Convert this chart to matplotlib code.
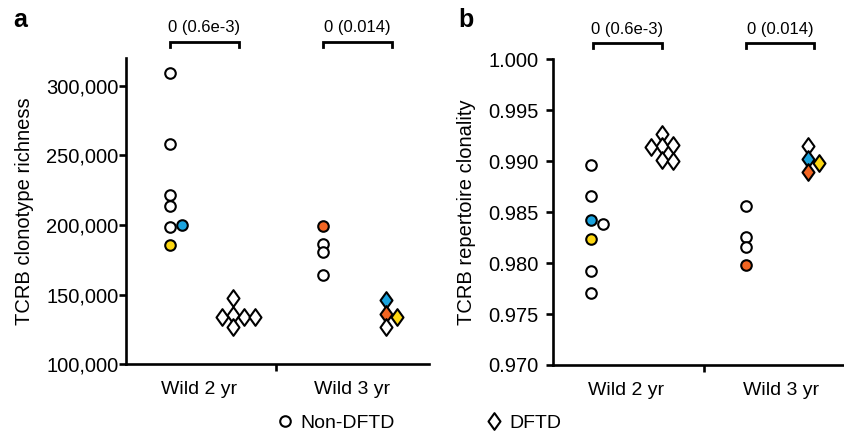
import numpy as np
import matplotlib
matplotlib.use("Agg")
import matplotlib.pyplot as plt
from matplotlib.path import Path
from matplotlib.lines import Line2D
from matplotlib.ticker import FuncFormatter, FixedLocator
import matplotlib.transforms as mtransforms

plt.rcParams["font.family"] = ["Liberation Sans", "DejaVu Sans"]

CATEGORIES = ["Wild 2 yr", "Wild 3 yr"]
PVALUE_TEXT = ["0 (0.6e-3)", "0 (0.014)"]

BLUE = "#1AA3DE"
YELLOW = "#FDD712"
ORANGE = "#F26522"
W = "white"

# panel a: TCRB clonotype richness
RICH_W2_NON = [309000, 258000, 221500, 213500, 198500, 200000, 186000]
RICH_W2_NON_FILL = [W, W, W, W, W, BLUE, YELLOW]
RICH_W2_DFTD = [147500, 135600, 134100, 133700, 134100, 126500]
RICH_W2_DFTD_FILL = [W] * 6
RICH_W3_NON = [199000, 186200, 181000, 163800]
RICH_W3_NON_FILL = [ORANGE, W, W, W]
RICH_W3_DFTD = [146100, 136100, 134100, 126500]
RICH_W3_DFTD_FILL = [BLUE, ORANGE, YELLOW, W]

# panel b: TCRB repertoire clonality
CLON_W2_NON = [0.9896, 0.9866, 0.9842, 0.9838, 0.9824, 0.9792, 0.9771]
CLON_W2_NON_FILL = [W, W, BLUE, W, YELLOW, W, W]
CLON_W2_DFTD = [0.9927, 0.99148, 0.99142, 0.99155, 0.9901, 0.9900]
CLON_W2_DFTD_FILL = [W] * 6
CLON_W3_NON = [0.9856, 0.9826, 0.9816, 0.9798]
CLON_W3_NON_FILL = [W, W, W, ORANGE]
CLON_W3_DFTD = [0.99148, 0.99017, 0.98892, 0.98978]
CLON_W3_DFTD_FILL = [W, BLUE, ORANGE, YELLOW]

# horizontal nudges (layout only) so overlapping points stay visible
STEP = 0.072
RICH_W2_NON_JIT = [0, 0, 0, 0, 0, 0.083, 0]
RICH_W2_DFTD_JIT = [0, 0, -STEP, STEP, 2 * STEP, 0]
RICH_W3_DFTD_JIT = [0, 0, STEP, 0]
CLON_W2_NON_JIT = [0, 0, 0, 0.076, 0, 0, 0]
CLON_W2_DFTD_JIT = [0, 0, -STEP, STEP, 0, STEP]
CLON_W3_DFTD_JIT = [0, 0, 0, STEP]

DIAMOND = Path([(0, 1), (0.72, 0), (0, -1), (-0.72, 0), (0, 1)],
               [Path.MOVETO, Path.LINETO, Path.LINETO, Path.LINETO, Path.CLOSEPOLY])
CIRCLE_KW = dict(marker="o", ms=7.6, mew=1.5, mec="black", ls="none")
DIAMOND_KW = dict(marker=DIAMOND, ms=12, mew=1.5, mec="black", ls="none")


def scatter_group(ax, xc, vals, fills, jit, kw):
    if jit is None:
        jit = [0] * len(vals)
    for v, f, j in zip(vals, fills, jit):
        ax.plot([xc + j], [v], mfc=f, clip_on=False, zorder=3, **kw)


def bracket(ax, x0, x1, text):
    tr = mtransforms.blended_transform_factory(ax.transData, ax.transAxes)
    ax.plot([x0, x0, x1, x1], [1.037, 1.053, 1.053, 1.037], color="black",
             lw=2.0, transform=tr, clip_on=False, solid_joinstyle="miter")
    ax.text((x0 + x1) / 2, 1.098, text, transform=tr, ha="center", va="center",
            fontsize=12)


def style_axes(ax, pad_y):
    for s in ("top", "right"):
        ax.spines[s].set_visible(False)
    for s in ("left", "bottom"):
        ax.spines[s].set_linewidth(1.9)
    ax.set_xlim(0.52, 2.5)
    ax.set_xticks([1, 2])
    ax.set_xticklabels(CATEGORIES, fontsize=14)
    ax.xaxis.set_minor_locator(FixedLocator([1.5]))
    ax.tick_params(axis="x", which="major", length=0, pad=12)
    ax.tick_params(axis="x", which="minor", length=5, width=1.9)
    ax.tick_params(axis="y", length=5, width=1.9, labelsize=14.5, pad=pad_y)


fig = plt.figure(figsize=(8.45, 4.37), dpi=100)
ax_a = fig.add_axes([0.1491, 0.1664, 0.3586, 0.7009])
ax_b = fig.add_axes([0.6541, 0.1648, 0.3618, 0.6995])

# panel a
style_axes(ax_a, 0.5)
ax_a.set_ylim(100000, 320000)
ax_a.set_yticks(np.arange(100000, 300001, 50000))
ax_a.yaxis.set_major_formatter(FuncFormatter(lambda v, _: f"{int(v):,}"))
ax_a.set_ylabel("TCRB clonotype richness", fontsize=14.5)
ax_a.yaxis.set_label_coords(-0.305, 0.5)
scatter_group(ax_a, 1 - 0.195, RICH_W2_NON, RICH_W2_NON_FILL, RICH_W2_NON_JIT, CIRCLE_KW)
scatter_group(ax_a, 1 + 0.22, RICH_W2_DFTD, RICH_W2_DFTD_FILL, RICH_W2_DFTD_JIT, DIAMOND_KW)
scatter_group(ax_a, 2 - 0.195, RICH_W3_NON, RICH_W3_NON_FILL, None, CIRCLE_KW)
scatter_group(ax_a, 2 + 0.22, RICH_W3_DFTD, RICH_W3_DFTD_FILL, RICH_W3_DFTD_JIT, DIAMOND_KW)
bracket(ax_a, 1 - 0.195, 1 + 0.257, PVALUE_TEXT[0])
bracket(ax_a, 2 - 0.195, 2 + 0.257, PVALUE_TEXT[1])

# panel b
style_axes(ax_b, 5)
ax_b.set_xlim(0.524, 2.5)
ax_b.set_ylim(0.970, 1.000)
ax_b.set_yticks(np.arange(0.970, 1.0001, 0.005))
ax_b.yaxis.set_major_formatter(FuncFormatter(lambda v, _: f"{v:.3f}"))
ax_b.set_ylabel("TCRB repertoire clonality", fontsize=14.5)
ax_b.yaxis.set_label_coords(-0.25, 0.5)
scatter_group(ax_b, 1 - 0.229, CLON_W2_NON, CLON_W2_NON_FILL, CLON_W2_NON_JIT, CIRCLE_KW)
scatter_group(ax_b, 1 + 0.229, CLON_W2_DFTD, CLON_W2_DFTD_FILL, CLON_W2_DFTD_JIT, DIAMOND_KW)
scatter_group(ax_b, 2 - 0.229, CLON_W3_NON, CLON_W3_NON_FILL, None, CIRCLE_KW)
scatter_group(ax_b, 2 + 0.175, CLON_W3_DFTD, CLON_W3_DFTD_FILL, CLON_W3_DFTD_JIT, DIAMOND_KW)
bracket(ax_b, 1 - 0.218, 1 + 0.229, PVALUE_TEXT[0])
bracket(ax_b, 2 - 0.229, 2 + 0.215, PVALUE_TEXT[1])

fig.text(0.0154, 0.938, "a", fontsize=18, fontweight="bold", va="baseline")
fig.text(0.542, 0.938, "b", fontsize=18, fontweight="bold", va="baseline")

handles = [Line2D([], [], mfc="white", **CIRCLE_KW),
           Line2D([], [], mfc="white", **DIAMOND_KW)]
fig.legend(handles, ["Non-DFTD", "DFTD"], loc="center left",
           bbox_to_anchor=(275 / 845, 0.032), ncol=2, frameon=False,
           fontsize=14, handlelength=1.0, handletextpad=0.3,
           columnspacing=4.6, borderpad=0, borderaxespad=0)

fig.savefig("out.png", dpi=100)
